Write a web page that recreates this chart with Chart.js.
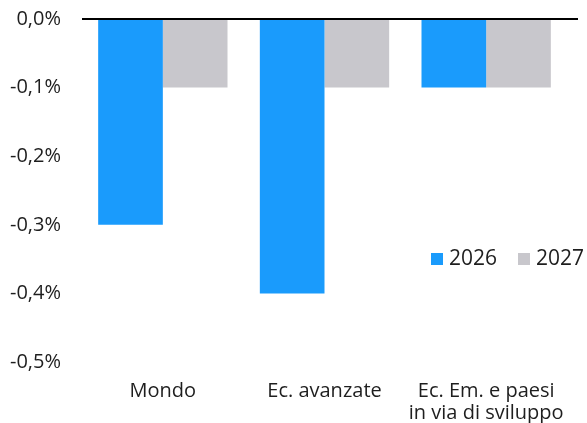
<!DOCTYPE html>
<html>
<head>
<meta charset="utf-8">
<script src="https://cdn.jsdelivr.net/npm/chart.js@4"></script>
<style>
  html, body { margin: 0; padding: 0; background: #fff; }
  #wrap { width: 587px; height: 423px; }
</style>
</head>
<body>
<div id="wrap"><canvas id="chart" width="587" height="423"></canvas></div>
<script>
const categories = ['Mondo', 'Ec. avanzate', ['Ec. Em. e paesi', 'in via di sviluppo']];
const values2026 = [-0.3, -0.4, -0.1];
const values2027 = [-0.1, -0.1, -0.1];
const yTicks = [0, -0.1, -0.2, -0.3, -0.4, -0.5];

const textColor = '#1e1e1e';
const fontFamily = '"Open Sans", Roboto, sans-serif';

// zero line across the plot
const zeroLine = {
  id: 'zeroLine',
  afterDatasetsDraw(chart) {
    const { ctx, chartArea, scales } = chart;
    const y = scales.y.getPixelForValue(0);
    ctx.save();
    ctx.strokeStyle = '#000';
    ctx.lineWidth = 2;
    ctx.beginPath();
    ctx.moveTo(chartArea.left, y);
    ctx.lineTo(chartArea.right + 11, y);
    ctx.stroke();
    ctx.restore();
  }
};

// legend drawn inside the plot area
const insideLegend = {
  id: 'insideLegend',
  afterDraw(chart) {
    const { ctx, chartArea } = chart;
    const y = chartArea.top + 240;
    let x = chartArea.left + 349;
    ctx.save();
    ctx.font = '21px ' + fontFamily;
    ctx.textBaseline = 'middle';
    chart.data.datasets.forEach(ds => {
      ctx.fillStyle = ds.backgroundColor;
      ctx.fillRect(x, y - 6, 12, 12);
      ctx.fillStyle = textColor;
      ctx.fillText(ds.label, x + 18, y);
      x += 87;
    });
    ctx.restore();
  }
};

new Chart(document.getElementById('chart'), {
  type: 'bar',
  data: {
    labels: categories,
    datasets: [
      { label: '2026', data: values2026, backgroundColor: '#1a9bfc', categoryPercentage: 0.8, barPercentage: 1.0 },
      { label: '2027', data: values2027, backgroundColor: '#c8c7cc', categoryPercentage: 0.8, barPercentage: 1.0 }
    ]
  },
  options: {
    responsive: false,
    animation: false,
    layout: { padding: { top: 19, right: 20, left: 0, bottom: 0 } },
    plugins: {
      legend: { display: false },
      tooltip: { enabled: false }
    },
    scales: {
      x: {
        grid: { display: false, drawTicks: false },
        border: { display: false },
        ticks: { color: textColor, font: { family: fontFamily, size: 20, lineHeight: 1.1 }, padding: 18, maxRotation: 0 },
        afterFit(scale) { scale.height = 61; }
      },
      y: {
        min: -0.5,
        max: 0,
        grid: { display: false, drawTicks: false },
        border: { display: false },
        afterBuildTicks(scale) { scale.ticks = yTicks.map(v => ({ value: v })); },
        afterFit(scale) {
          scale.width = 82;
          scale.paddingTop = 12;
          scale.paddingBottom = 12;
        },
        ticks: {
          color: textColor,
          font: { family: fontFamily, size: 20 },
          padding: 21,
          callback: v => (Math.abs(v) < 1e-9 ? 0 : v).toFixed(1).replace('.', ',') + '%'
        }
      }
    }
  },
  plugins: [zeroLine, insideLegend]
});
</script>
</body>
</html>
